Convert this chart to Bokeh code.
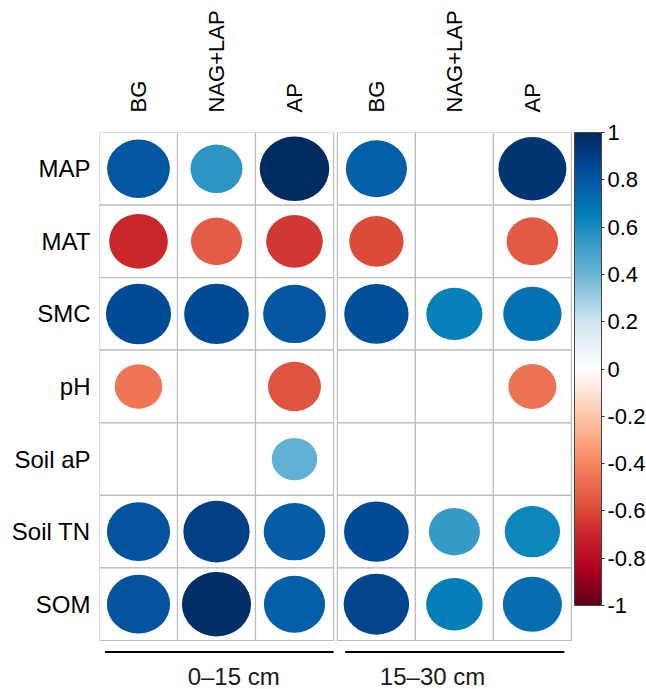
import numpy as np
from bokeh.plotting import figure
from bokeh.models import (ColumnDataSource, LinearColorMapper, ColorBar, FixedTicker, Range1d)
from bokeh.core.properties import value
from bokeh.embed import file_html
from bokeh.resources import INLINE

nan = float("nan")

# ---------------- data ----------------
rows = ["MAP", "MAT", "SMC", "pH", "Soil aP", "Soil TN", "SOM"]
enzymes = ["BG", "NAG+LAP", "AP"]
depths = ["0\u201315 cm", "15\u201330 cm"]

# correlation coefficients (blank = not significant)
r_0_15_BG = [0.80, -0.70, 0.86, -0.46, nan, 0.81, 0.81]
r_0_15_NAGLAP = [0.55, -0.53, 0.85, nan, nan, 0.89, 0.97]
r_0_15_AP = [0.98, -0.65, 0.80, -0.57, 0.42, 0.77, 0.76]

r_15_30_BG = [0.76, -0.60, 0.84, nan, nan, 0.85, 0.87]
r_15_30_NAGLAP = [nan, nan, 0.64, nan, nan, 0.53, 0.65]
r_15_30_AP = [0.94, -0.54, 0.69, -0.47, nan, 0.62, 0.71]

cb_ticks = [-1, -0.8, -0.6, -0.4, -0.2, 0, 0.2, 0.4, 0.6, 0.8, 1]
cb_labels = ["-1", "-0.8", "-0.6", "-0.4", "-0.2", "0", "0.2", "0.4", "0.6", "0.8", "1"]

# ---------------- palette (200 colours, red-white-blue) ----------------
pal_pos = [-1.0, -0.85, -0.7, -0.6, -0.5, -0.4, -0.2, 0.0, 0.2, 0.4, 0.55, 0.65, 0.75, 0.85, 0.93, 1.0]
pal_hex = ["#5e0019", "#b0001f", "#c9252c", "#da4a3a", "#e9684e", "#f6875f", "#fcc7aa", "#ffffff",
           "#cfe6f2", "#6db6d6", "#3197c5", "#0480b8", "#0564ac", "#024c98", "#01397a", "#002a5c"]
rgb = np.array([[int(h[i:i + 2], 16) for i in (1, 3, 5)] for h in pal_hex], float)
t = np.linspace(-1, 1, 200)
pal = []
for tt in t:
    c = [np.interp(tt, pal_pos, rgb[:, k]) for k in range(3)]
    pal.append("#%02x%02x%02x" % tuple(int(round(v)) for v in c))
mapper = LinearColorMapper(palette=pal, low=-1, high=1)

FONT = "Liberation Sans"
panels = [
    (0.0, [r_0_15_BG, r_0_15_NAGLAP, r_0_15_AP]),
    (3.05, [r_15_30_BG, r_15_30_NAGLAP, r_15_30_AP]),
]
nrow = len(rows)

cx, cy, ex, ey, ew, eh, er = [], [], [], [], [], [], []
for x0, cols in panels:
    for j, col in enumerate(cols):
        for i, r in enumerate(col):
            xc = x0 + j + 0.5
            yc = nrow - i - 0.5
            cx.append(xc)
            cy.append(yc)
            if not np.isnan(r):
                s = 0.9 * np.sqrt(abs(r))
                ex.append(xc); ey.append(yc); ew.append(s); eh.append(s); er.append(r)

W, H = 646, 689
p = figure(width=W, height=H, output_backend="svg", toolbar_location=None,
           x_axis_location="above",
           x_range=Range1d(0, 7.013), y_range=Range1d(-0.675, 7))
p.min_border_left = 99
p.min_border_top = 132
p.min_border_right = 0
p.min_border_bottom = 0
p.outline_line_color = None
p.xgrid.visible = False
p.ygrid.visible = False
p.background_fill_color = "white"
p.border_fill_color = "white"

p.rect(x=cx, y=cy, width=1, height=1, fill_color="white",
       line_color="#bdbdbd", line_width=1.2)

src = ColumnDataSource(dict(x=ex, y=ey, w=ew, h=eh, r=er))
p.ellipse(x="x", y="y", width="w", height="h", source=src,
          fill_color={"field": "r", "transform": mapper}, line_color=None)

# depth brackets
p.segment(x0=[0.07, 3.15], y0=[-0.158, -0.158], x1=[3.0, 5.96], y1=[-0.158, -0.158],
          line_color="black", line_width=2.2)
p.text(x=[1.72, 4.27], y=[-0.49, -0.49], text=depths, text_align="center",
       text_baseline="middle", text_font=value(FONT), text_font_size="24px",
       text_color="#1a1a1a")

# axes
xt = [x0 + j + 0.5 for x0, _ in panels for j in range(3)]
p.xaxis.ticker = FixedTicker(ticks=xt)
p.xaxis.major_label_overrides = {v: enzymes[k % 3] for k, v in enumerate(xt)}
p.xaxis.major_label_orientation = "vertical"
p.xaxis.major_label_text_font = FONT
p.xaxis.major_label_text_font_size = "22px"
p.xaxis.major_label_text_color = "black"
p.xaxis.major_label_standoff = 20
p.xaxis.axis_line_color = None
p.xaxis.major_tick_line_color = None
p.xaxis.minor_tick_line_color = None
p.xaxis.major_tick_out = 0

yt = [nrow - i - 0.5 for i in range(nrow)]
p.yaxis.ticker = FixedTicker(ticks=yt)
p.yaxis.major_label_overrides = {v: rows[i] for i, v in enumerate(yt)}
p.yaxis.major_label_text_font = FONT
p.yaxis.major_label_text_font_size = "24px"
p.yaxis.major_label_text_color = "black"
p.yaxis.major_label_standoff = 9
p.yaxis.axis_line_color = None
p.yaxis.major_tick_line_color = None
p.yaxis.minor_tick_line_color = None
p.yaxis.major_tick_out = 0

cb = ColorBar(color_mapper=mapper, location=(475, 84), width=27, height=473,
              padding=0, margin=0, ticker=FixedTicker(ticks=cb_ticks),
              major_label_overrides={v: l for v, l in zip(cb_ticks, cb_labels)},
              major_label_text_font=FONT, major_label_text_font_size="22px",
              major_label_text_color="black",
              major_tick_in=0, major_tick_out=3, major_tick_line_color="#333333",
              bar_line_color="#444444", bar_line_width=1,
              label_standoff=3, background_fill_alpha=0, border_line_color=None)
p.add_layout(cb)

open("out.html", "w").write(file_html(p, INLINE))
